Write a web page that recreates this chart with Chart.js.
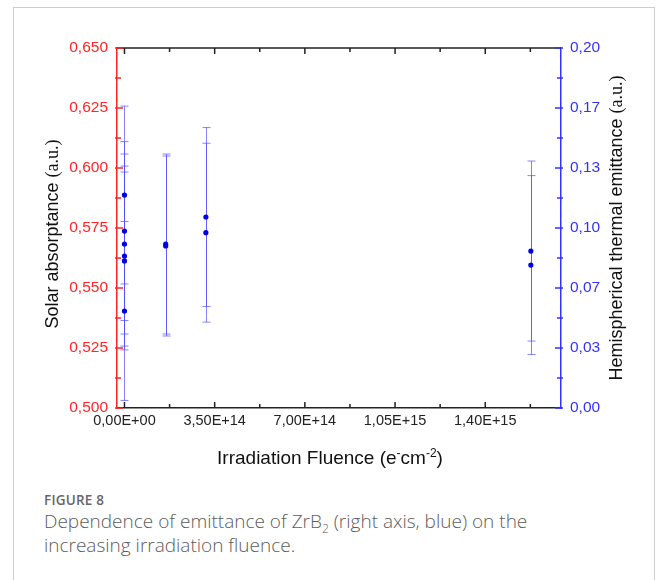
<!DOCTYPE html>
<html>
<head>
<meta charset="utf-8">
<title>Figure 8</title>
<script src="https://cdn.jsdelivr.net/npm/chart.js@4.4.0/dist/chart.umd.min.js"></script>
<style>
  html, body { margin: 0; padding: 0; background: #fff; }
  body { width: 656px; height: 580px; position: relative; overflow: hidden; }
  .card {
    position: absolute; left: 13px; top: 7px; width: 642px; height: 620px;
    border: 1px solid #cccccc; box-sizing: border-box;
  }
  .chart-box { position: absolute; left: 0; top: 0; width: 656px; height: 480px; }
  .caption {
    position: absolute; left: 44px; top: 491px; width: 600px;
    font-family: "Open Sans", "Noto Sans", sans-serif; color: #5c5c5c;
  }
  .caption .fig { font-size: 13.5px; font-weight: 600; letter-spacing: 0.2px; line-height: 18px; color: #666; }
  .caption .txt { font-size: 19px; font-weight: 300; line-height: 24px; }
  .caption sub { font-size: 12px; line-height: 0; }
</style>
</head>
<body>
<div class="card"></div>
<div class="chart-box"><canvas id="chart"></canvas></div>
<div class="caption">
  <div class="fig">FIGURE 8</div>
  <div class="txt">Dependence of emittance of ZrB<sub>2</sub> (right axis, blue) on the<br>increasing irradiation fluence.</div>
</div>

<script>
// fluence (e-/cm2) and hemispherical emittance
const fluence = [0, 0, 0, 0, 0, 0, 1.6e14, 1.6e14, 3.16e14, 3.16e14, 1.577e15, 1.577e15];
const emittance = [0.1183, 0.0983, 0.0911, 0.0844, 0.0817, 0.0539, 0.0911, 0.0900, 0.1061, 0.0974, 0.0872, 0.0794];
const emittanceErr = [0.0494, 0.0497, 0.0500, 0.0500, 0.0494, 0.0497, 0.0500, 0.0500, 0.0497, 0.0497, 0.0500, 0.0497];

const xTicks = [0, 3.5e14, 7e14, 1.05e15, 1.4e15];
const xTickLabels = ["0,00E+00", "3,50E+14", "7,00E+14", "1,05E+15", "1,40E+15"];
const leftTicks = [0.5, 0.525, 0.55, 0.575, 0.6, 0.625, 0.65];
const leftTickLabels = ["0,500", "0,525", "0,550", "0,575", "0,600", "0,625", "0,650"];
const rightTicks = [0, 0.03333, 0.06667, 0.1, 0.13333, 0.16667, 0.2];
const rightTickLabels = ["0,00", "0,03", "0,07", "0,10", "0,13", "0,17", "0,20"];

const RED = "#ff2424";
const BLUE = "#3232ff";
const SANS = "'Liberation Sans', Arial, sans-serif";
const SERIF = "'Liberation Serif', 'Times New Roman', serif";

function minors(arr, extraEnd) {
  let out = [];
  for (let i = 0; i < arr.length - 1; i++) out.push((arr[i] + arr[i + 1]) / 2);
  if (extraEnd) {
    let step = arr[1] - arr[0];
    out.push(arr[arr.length - 1] + step / 2);
  }
  return out;
}

// inward tick marks on all four sides
const tickMarks = {
  id: "tickMarks",
  afterDatasetsDraw(chart) {
    const { ctx, chartArea: ca, scales } = chart;
    ctx.save();
    ctx.lineWidth = 1.5;

    // top frame line
    ctx.strokeStyle = "#222";
    ctx.beginPath();
    ctx.moveTo(ca.left, ca.top);
    ctx.lineTo(ca.right, ca.top);
    ctx.stroke();

    const xs = [[xTicks, 6], [minors(xTicks, true), 4]];
    xs.forEach(([vals, len]) => {
      vals.forEach((v) => {
        let px = scales.x.getPixelForValue(v);
        ctx.beginPath();
        ctx.moveTo(px, ca.bottom);
        ctx.lineTo(px, ca.bottom - len);
        ctx.moveTo(px, ca.top);
        ctx.lineTo(px, ca.top + len);
        ctx.stroke();
      });
    });

    ctx.strokeStyle = RED;
    [[leftTicks, 6], [minors(leftTicks), 4]].forEach(([vals, len]) => {
      vals.forEach((v) => {
        let py = scales.y.getPixelForValue(v);
        ctx.beginPath();
        ctx.moveTo(ca.left - 2, py);
        ctx.lineTo(ca.left + len, py);
        ctx.stroke();
      });
    });

    ctx.strokeStyle = BLUE;
    [[rightTicks, 6], [minors(rightTicks), 4]].forEach(([vals, len]) => {
      vals.forEach((v) => {
        let py = scales.y2.getPixelForValue(v);
        ctx.beginPath();
        ctx.moveTo(ca.right + 2, py);
        ctx.lineTo(ca.right - len, py);
        ctx.stroke();
      });
    });
    ctx.restore();
  },
};

// vertical error bars with caps, under the points
const errorBars = {
  id: "errorBars",
  beforeDatasetsDraw(chart) {
    const { ctx, scales } = chart;
    ctx.save();
    ctx.strokeStyle = "rgba(80, 80, 255, 0.7)";
    ctx.lineWidth = 1;
    fluence.forEach((f, i) => {
      let px = Math.round(scales.x.getPixelForValue(f)) + 0.5;
      let top = scales.y2.getPixelForValue(emittance[i] + emittanceErr[i]);
      let bot = scales.y2.getPixelForValue(emittance[i] - emittanceErr[i]);
      ctx.beginPath();
      ctx.moveTo(px, top);
      ctx.lineTo(px, bot);
      ctx.moveTo(px - 4, top);
      ctx.lineTo(px + 4, top);
      ctx.moveTo(px - 4, bot);
      ctx.lineTo(px + 4, bot);
      ctx.stroke();
    });
    ctx.restore();
  },
};

function drawParts(ctx, parts, cx, cy, rotate) {
  ctx.save();
  ctx.translate(cx, cy);
  if (rotate) ctx.rotate(-Math.PI / 2);
  ctx.textBaseline = "alphabetic";
  ctx.fillStyle = "#111";
  let total = 0;
  parts.forEach((p) => {
    ctx.font = p.font;
    total += ctx.measureText(p.text).width;
  });
  let x = -total / 2;
  parts.forEach((p) => {
    ctx.font = p.font;
    ctx.fillText(p.text, x, p.rise || 0);
    x += ctx.measureText(p.text).width;
  });
  ctx.restore();
}

const axisTitles = {
  id: "axisTitles",
  afterDraw(chart) {
    const { ctx, chartArea: ca } = chart;
    const midY = (ca.top + ca.bottom) / 2;
    drawParts(ctx, [
      { text: "Solar absorptance ", font: "18px " + SANS },
      { text: "(a.u.)", font: "18px " + SERIF },
    ], 58, midY + 6, true);
    drawParts(ctx, [
      { text: "Hemispherical thermal emittance ", font: "18px " + SANS },
      { text: "(a.u.)", font: "18px " + SERIF },
    ], 622, midY, true);
    drawParts(ctx, [
      { text: "Irradiation Fluence (e", font: "19px " + SANS },
      { text: "-", font: "12px " + SANS, rise: -7 },
      { text: "cm", font: "19px " + SANS },
      { text: "-2", font: "12px " + SANS, rise: -7 },
      { text: ")", font: "19px " + SANS },
    ], 330, 464, false);
  },
};

const ctx = document.getElementById("chart");

const chart = new Chart(ctx, {
  type: "scatter",
  data: {
    datasets: [
      {
        label: "Emittance",
        data: fluence.map((f, i) => ({ x: f, y: emittance[i] })),
        yAxisID: "y2",
        backgroundColor: "#0000e6",
        borderColor: "#0000e6",
        pointRadius: 2.6,
        pointHoverRadius: 2.6,
        borderWidth: 0,
      },
    ],
  },
  options: {
    responsive: true,
    maintainAspectRatio: false,
    animation: false,
    layout: {
      padding: { top: 48, left: 0, right: 0, bottom: 0 },
    },
    plugins: {
      legend: { display: false },
      tooltip: { enabled: false },
    },
    scales: {
      x: {
        type: "linear",
        min: -2.9e13,
        max: 1.694e15,
        afterFit: (s) => { s.height = 72; },
        afterBuildTicks: (s) => { s.ticks = xTicks.map((v) => ({ value: v })); },
        grid: { display: false, drawTicks: false },
        border: { display: true, color: "#222", width: 1.5 },
        ticks: {
          autoSkip: false,
          maxRotation: 0,
          padding: 4,
          color: "#222",
          font: { family: SANS, size: 14.5 },
          callback: (v, i) => xTickLabels[i],
        },
      },
      y: {
        position: "left",
        display: true,
        min: 0.5,
        max: 0.65,
        afterFit: (s) => { s.width = 117; },
        afterBuildTicks: (s) => { s.ticks = leftTicks.map((v) => ({ value: v })); },
        grid: { display: false, drawTicks: false },
        border: { display: true, color: RED, width: 1.5 },
        ticks: {
          autoSkip: false,
          padding: 9,
          color: RED,
          font: { family: SANS, size: 15.5 },
          callback: (v, i) => leftTickLabels[i],
        },
      },
      y2: {
        position: "right",
        display: true,
        min: 0,
        max: 0.2,
        afterFit: (s) => { s.width = 95; },
        afterBuildTicks: (s) => { s.ticks = rightTicks.map((v) => ({ value: v })); },
        grid: { display: false, drawTicks: false },
        border: { display: true, color: BLUE, width: 1.5 },
        ticks: {
          autoSkip: false,
          padding: 9,
          color: BLUE,
          font: { family: SANS, size: 15.5 },
          callback: (v, i) => rightTickLabels[i],
        },
      },
    },
  },
  plugins: [errorBars, tickMarks, axisTitles],
});
</script>
</body>
</html>
